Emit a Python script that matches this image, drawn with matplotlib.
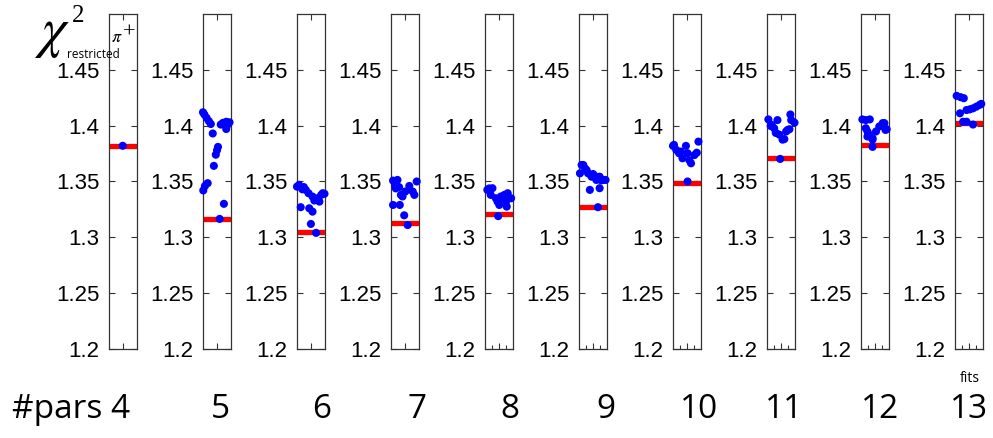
import numpy as np
import matplotlib
matplotlib.use('Agg')
import matplotlib.pyplot as plt

# number of parameters for each panel
n_pars = [4, 5, 6, 7, 8, 9, 10, 11, 12, 13]

# best (minimum) chi2 per panel -> red bar
chi2_min = [1.382, 1.3165, 1.305, 1.3125, 1.3205, 1.327, 1.349, 1.3714, 1.3827, 1.4025]

# individual fits per panel: x = fit position, y = chi2
fits_x_4 = [10]
fits_y_4 = [1.382]
fits_x_5 = [0, 1.0, 2.6, 4.3, 5.7, 7.1, 10.9, 10.2, 9.3, 7.9, 3.4, 1.4, 0.2, 15.2, 12.1,
            12.9, 14.5, 16.9, 18.0, 19.3, 16.9]
fits_y_5 = [1.412, 1.410, 1.407, 1.404, 1.4015, 1.393, 1.381, 1.378, 1.374, 1.364, 1.3485,
            1.346, 1.342, 1.330, 1.3165, 1.401, 1.4025, 1.4035, 1.401, 1.403, 1.397]
fits_x_6 = [0, 1.5, 3.9, 6.4, 8.4, 11.3, 12.6, 15.0, 17.6, 18.7, 20, 16.3, 2.7, 8.9, 11.3,
            10.1, 13.9, 5.0, 13.5]
fits_y_6 = [1.3454, 1.347, 1.343, 1.3425, 1.3395, 1.3365, 1.333, 1.335, 1.338, 1.3395, 1.339,
            1.332, 1.327, 1.326, 1.323, 1.312, 1.304, 1.345, 1.3345]
fits_x_7 = [1.5, 4.7, 3.0, 5.9, 8.4, 10.4, 13.3, 15.8, 18.7, 17.0, 1.5, 6.4, 9.6, 12.1, 3.5, 7.2]
fits_y_7 = [1.3508, 1.3514, 1.347, 1.345, 1.3366, 1.341, 1.346, 1.341, 1.350, 1.338, 1.329,
            1.329, 1.3197, 1.311, 1.3438, 1.338]
fits_x_8 = [1.7, 3.0, 5.4, 4.2, 7.9, 9.1, 10.4, 11.6, 14.1, 16.5, 19.0, 15.3, 15.8, 10.4, 9.6]
fits_y_8 = [1.3425, 1.3438, 1.344, 1.338, 1.335, 1.332, 1.333, 1.3366, 1.338, 1.3395, 1.335,
            1.332, 1.3275, 1.329, 1.319]
fits_x_9 = [1.9, 3.1, 4.3, 0.7, 5.5, 6.6, 9.1, 10.2, 11.4, 12.6, 13.8, 15.0, 16.2, 17.4, 19.3,
            7.9, 15.0, 13.8]
fits_y_9 = [1.3648, 1.3648, 1.3618, 1.3573, 1.3603, 1.3573, 1.3543, 1.3567, 1.355, 1.3514,
            1.353, 1.3543, 1.351, 1.3514, 1.3514, 1.3425, 1.344, 1.327]
fits_x_10 = [0, 0.7, 2.4, 4.4, 5.7, 6.9, 9.4, 10.6, 11.9, 13.1, 15.6, 17.3, 18.5, 10.6]
fits_y_10 = [1.3819, 1.3828, 1.3783, 1.3753, 1.3768, 1.3708, 1.3819, 1.3753, 1.369, 1.3663,
             1.3737, 1.3758, 1.3857, 1.350]
fits_x_11 = [1.0, 2.7, 3.5, 5.2, 6.4, 7.6, 8.9, 11.3, 12.6, 13.9, 15.0, 16.3, 17.6, 17.0, 20, 9.6]
fits_y_11 = [1.4056, 1.3997, 1.4007, 1.3977, 1.3935, 1.405, 1.392, 1.3875, 1.388, 1.3948,
             1.3962, 1.3968, 1.405, 1.410, 1.4027, 1.3702]
fits_x_12 = [1.0, 3.5, 6.4, 3.5, 4.7, 5.9, 4.7, 8.4, 8.4, 10.9, 13.3, 15.8, 17.0, 17.8, 18.7, 8.4]
fits_y_12 = [1.4056, 1.405, 1.4056, 1.3977, 1.3948, 1.392, 1.3903, 1.3888, 1.3875, 1.3948,
             1.3993, 1.4023, 1.4023, 1.3962, 1.3968, 1.381]
fits_x_13 = [1.2, 4.1, 6.4, 3.6, 8.4, 10.7, 13.1, 15.5, 17.9, 19.1, 5.9, 8.4, 13.1]
fits_y_13 = [1.4267, 1.4255, 1.4246, 1.4111, 1.414, 1.4146, 1.4155, 1.417, 1.4186, 1.4195,
             1.4035, 1.4035, 1.401]

fits_x = [fits_x_4, fits_x_5, fits_x_6, fits_x_7, fits_x_8, fits_x_9, fits_x_10, fits_x_11,
          fits_x_12, fits_x_13]
fits_y = [fits_y_4, fits_y_5, fits_y_6, fits_y_7, fits_y_8, fits_y_9, fits_y_10, fits_y_11,
          fits_y_12, fits_y_13]

yticks = [1.2, 1.25, 1.3, 1.35, 1.4, 1.45]
ytick_labels = ['1.2', '1.25', '1.3', '1.35', '1.4', '1.45']

W, H = 993, 438
fig = plt.figure(figsize=(W / 100, H / 100), dpi=100)

label_x = [122, 220, 322, 417, 510, 606, 699, 784, 880, 969]

for i in range(len(n_pars)):
    left = 109 + i * 94.0
    ax = fig.add_axes([left / W, (H - 349) / H, 27.5 / W, 335 / H])
    ax.set_xlim(0, 20)
    ax.set_ylim(1.2, 1.5)
    ax.axhline(chi2_min[i], color='red', lw=3.8, zorder=2)
    ax.scatter(fits_x[i], fits_y[i], s=34, color='blue', edgecolors='none',
               zorder=3, clip_on=False)
    ax.set_yticks(yticks)
    ax.set_yticklabels(ytick_labels, fontsize=16, family='Liberation Sans')
    ax.set_xticks([10])
    ax.set_xticks([5, 15] if i > 3 else [], minor=True)
    ax.set_xticklabels([])
    ax.tick_params(axis='both', which='both', direction='in', length=4, width=0.8,
                   color='#333333', top=True, right=True, pad=7)
    ax.tick_params(axis='x', which='minor', top=False, length=3)
    for sp in ax.spines.values():
        sp.set_linewidth(0.9)
        sp.set_color('#333333')
    # #pars labels below each panel
    if i == 0:
        fig.text(12 / W, 1 - 410 / H, '#pars 4', fontsize=24, family='Open Sans',
                 va='center', ha='left')
    else:
        fig.text(label_x[i] / W, 1 - 410 / H, str(n_pars[i]), fontsize=24,
                 family='Open Sans', va='center', ha='center')

fig.text(970 / W, 1 - 378 / H, 'fits', fontsize=10, family='Open Sans',
         ha='center', va='center')

# axis title chi^2_restricted pi+
fig.text(34 / W, 1 - 46 / H, r'$\chi$', fontsize=40, ha='left', va='baseline',
         math_fontfamily='stix')
fig.text(72 / W, 1 - 22 / H, '2', fontsize=18, family='Liberation Serif',
         ha='left', va='baseline')
fig.text(67 / W, 1 - 58 / H, 'restricted', fontsize=8.5, family='Open Sans',
         ha='left', va='baseline')
fig.text(111 / W, 1 - 42 / H, r'$\pi$', fontsize=13, ha='left', va='baseline',
         math_fontfamily='stix')
fig.text(123 / W, 1 - 38 / H, '+', fontsize=16, family='Liberation Serif',
         ha='left', va='baseline')

fig.savefig('out.png', dpi=100)
